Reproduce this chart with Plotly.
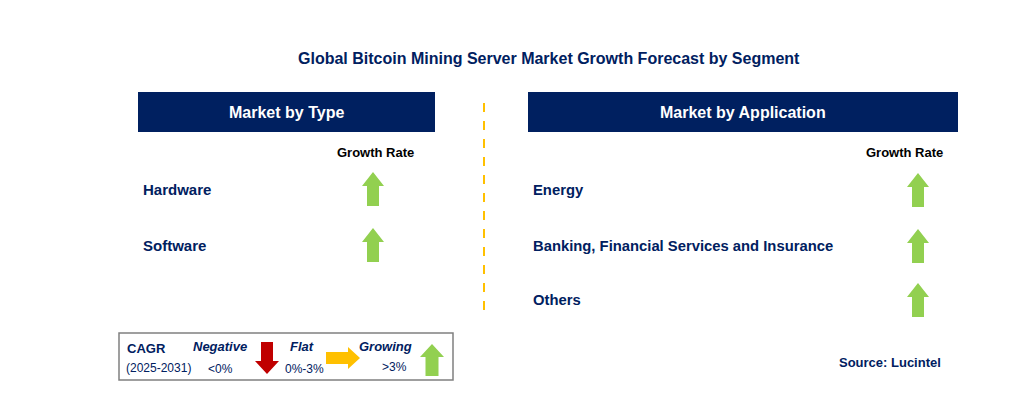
import plotly.graph_objects as go

title = "Global Bitcoin Mining Server Market Growth Forecast by Segment"
type_header = "Market by Type"
app_header = "Market by Application"
type_labels = ["Hardware", "Software"]
type_trend = ["up", "up"]
app_labels = ["Energy", "Banking, Financial Services and Insurance", "Others"]
app_trend = ["up", "up", "up"]
source = "Source: Lucintel"

NAVY = "#002060"
GREEN = "#92D050"
RED = "#C00000"
YEL = "#FFC000"
FONT = "Liberation Sans, Arial"

fig = go.Figure()
shapes, ann = [], []

def arrow(cx, cy, d, color, w=22, h=34, sw=12, hh=14):
    if d == "up":
        t, b = cy - h/2, cy + h/2
        p = (f"M{cx},{t} L{cx+w/2},{t+hh} L{cx+sw/2},{t+hh} L{cx+sw/2},{b} "
             f"L{cx-sw/2},{b} L{cx-sw/2},{t+hh} L{cx-w/2},{t+hh} Z")
    elif d == "down":
        t, b = cy - h/2, cy + h/2
        p = (f"M{cx},{b} L{cx+w/2},{b-hh} L{cx+sw/2},{b-hh} L{cx+sw/2},{t} "
             f"L{cx-sw/2},{t} L{cx-sw/2},{b-hh} L{cx-w/2},{b-hh} Z")
    else:
        l, r = cx - h/2, cx + h/2
        p = (f"M{r},{cy} L{r-hh},{cy-w/2} L{r-hh},{cy-sw/2} L{l},{cy-sw/2} "
             f"L{l},{cy+sw/2} L{r-hh},{cy+sw/2} L{r-hh},{cy+w/2} Z")
    shapes.append(dict(type="path", path=p, fillcolor=color, line=dict(width=0), layer="above"))

def text(x, y, s, size=14, color=NAVY, bold=True, anchor="left", italic=False):
    if bold: s = f"<b>{s}</b>"
    if italic: s = f"<i>{s}</i>"
    ann.append(dict(x=x, y=y, text=s, showarrow=False, xanchor=anchor, yanchor="middle",
                    font=dict(family=FONT, size=size, color=color)))

text(549, 58, title, size=16, anchor="center")
shapes.append(dict(type="rect", x0=138, x1=435, y0=92, y1=132, fillcolor=NAVY, line=dict(width=0)))
shapes.append(dict(type="rect", x0=528, x1=958, y0=92, y1=132, fillcolor=NAVY, line=dict(width=0)))
text(286, 112, type_header, size=16, color="white", anchor="center")
text(743, 112, app_header, size=16, color="white", anchor="center")
text(375, 152, "Growth Rate", size=13, color="black", anchor="center")
text(904, 152, "Growth Rate", size=13, color="black", anchor="center")
shapes.append(dict(type="line", x0=484, x1=484, y0=103, y1=318, line=dict(color=YEL, width=2, dash="dash")))

type_y = [189, 245]
for lab, tr, y in zip(type_labels, type_trend, type_y):
    text(141, y, lab, size=15)
    arrow(373, y, tr, GREEN)
app_y = [190, 246, 300]
for lab, tr, y in zip(app_labels, app_trend, app_y):
    text(531, y, lab, size=14.8)
    arrow(918, y, tr, GREEN)

shapes.append(dict(type="rect", x0=119, x1=453, y0=333, y1=380, fillcolor="white", line=dict(color="#808080", width=1.5)))
text(125, 348, "CAGR", size=13)
text(124, 368, "(2025-2031)", size=12, bold=False)
text(220, 346, "Negative", size=13, italic=True, anchor="center")
text(220, 369, "&lt;0%", size=12, bold=False, anchor="center")
arrow(267, 358, "down", RED, w=24, h=32, sw=12, hh=13)
text(302, 346, "Flat", size=13, italic=True, anchor="center")
text(304, 369, "0%-3%", size=12, bold=False, anchor="center")
arrow(343, 358, "right", YEL, w=22, h=34, sw=12, hh=12)
text(385, 346, "Growing", size=13, italic=True, anchor="center")
text(394, 367, "&gt;3%", size=12, bold=False, anchor="center")
arrow(432, 360, "up", GREEN, w=24, h=32, sw=13, hh=13)

text(943, 362, source, size=13, anchor="right")

fig.update_layout(width=1022, height=406, margin=dict(l=0, r=0, t=0, b=0),
                  paper_bgcolor="white", plot_bgcolor="white", shapes=shapes, annotations=ann,
                  xaxis=dict(range=[8, 1030], visible=False, fixedrange=True),
                  yaxis=dict(range=[414, 8], visible=False, fixedrange=True),
                  showlegend=False)
fig.write_html("out.html")
